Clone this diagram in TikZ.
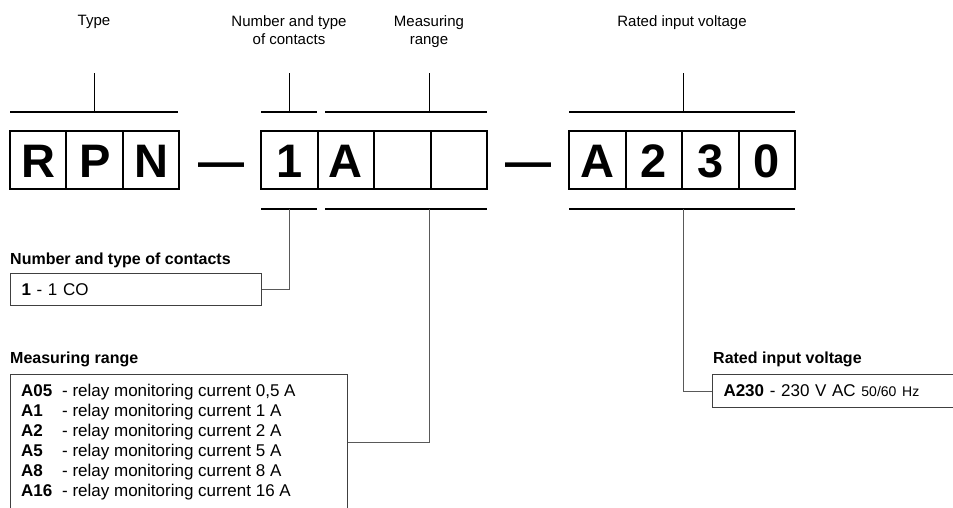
\documentclass[tikz,border=0pt]{standalone}
\usepackage{fontspec}
\setmainfont{Liberation Sans}
\tikzstyle{cell}=[draw=black,line width=2pt,minimum width=56.5pt,minimum height=58pt,
  inner sep=0pt,text height=34pt,text depth=0pt,font=\bfseries\fontsize{47}{47}\selectfont]
\tikzstyle{dashsign}=[inner sep=0pt,text height=34pt,text depth=0pt,
  font=\bfseries\fontsize{46}{46}\selectfont]
\tikzstyle{toplabel}=[align=center,inner sep=0pt,font=\fontsize{15}{18}\selectfont]
\tikzstyle{heading}=[inner sep=0pt,font=\bfseries\fontsize{16}{18}\selectfont]
\tikzstyle{listbox}=[draw=black!75,line width=1pt,inner sep=0pt,
  font=\fontsize{17}{20}\selectfont]
\tikzstyle{bracket}=[line width=1.5pt]
\tikzstyle{tick}=[line width=1pt]
\tikzstyle{lead}=[line width=1pt,draw=black!65]

\begin{document}
\begin{tikzpicture}[x=1pt,y=-1pt]
    \useasboundingbox (0,0) rectangle (953,507);
    \clip (0,0) rectangle (953,507);
    % code cells
    \node [style=cell] (r) at (38.2,160) {R};
    \node [style=cell] (p) at (94.7,160) {P};
    \node [style=cell] (n) at (151.2,160) {N};
    \node [style=dashsign] (d1) at (221,160) {—};
    \node [style=cell] (c1) at (289.25,160) {1};
    \node [style=cell] (c2) at (345.75,160) {A};
    \node [style=cell] (m1) at (402.25,160) {};
    \node [style=cell] (m2) at (458.75,160) {};
    \node [style=dashsign] (d2) at (528.5,160) {—};
    \node [style=cell] (v1) at (597.25,160) {A};
    \node [style=cell] (v2) at (653.75,160) {2};
    \node [style=cell] (v3) at (710.25,160) {3};
    \node [style=cell] (v4) at (766.75,160) {0};
    % top labels
    \node [style=toplabel,anchor=north] (ltype) at (94,15) {Type};
    \node [style=toplabel,anchor=north] (lcont) at (289,15) {Number and type\\of contacts};
    \node [style=toplabel,anchor=north] (lmeas) at (429,15) {Measuring\\range};
    \node [style=toplabel,anchor=north] (lvolt) at (682,15) {Rated input voltage};
    % brackets
    \coordinate (tl) at (10,112);
    \coordinate (tr) at (178,112);
    \coordinate (tt) at (94,73);
    \coordinate (tm) at (94,112);
    \coordinate (cl) at (261,112);
    \coordinate (cr) at (317,112);
    \coordinate (ct) at (289,73);
    \coordinate (cm) at (289,112);
    \coordinate (ml) at (325,112);
    \coordinate (mr) at (487,112);
    \coordinate (mt) at (429,73);
    \coordinate (mm) at (429,112);
    \coordinate (vl) at (569,112);
    \coordinate (vr) at (795,112);
    \coordinate (vt) at (683,73);
    \coordinate (vm) at (683,112);
    \coordinate (cbl) at (261,209);
    \coordinate (cbr) at (317,209);
    \coordinate (cbm) at (289,209);
    \coordinate (mbl) at (325,209);
    \coordinate (mbr) at (487,209);
    \coordinate (mbm) at (429,209);
    \coordinate (vbl) at (569,209);
    \coordinate (vbr) at (795,209);
    \coordinate (vbm) at (683,209);
    \draw [style=bracket] (tl) to (tr);
    \draw [style=tick] (tt) to (tm);
    \draw [style=bracket] (cl) to (cr);
    \draw [style=tick] (ct) to (cm);
    \draw [style=bracket] (ml) to (mr);
    \draw [style=tick] (mt) to (mm);
    \draw [style=bracket] (vl) to (vr);
    \draw [style=tick] (vt) to (vm);
    \draw [style=bracket] (cbl) to (cbr);
    \draw [style=bracket] (mbl) to (mbr);
    \draw [style=bracket] (vbl) to (vbr);
    % legend
    \node [style=heading,anchor=base west] (hcont) at (10,264) {Number and type of contacts};
    \node [style=listbox,anchor=north west,minimum width=251pt,minimum height=32pt,
      text width=229pt,align=left,text height=11.5pt,text depth=0pt] (cbox) at (10,273)
      {\textbf{1} - 1 CO};
    \node [style=heading,anchor=base west] (hmeas) at (10,363) {Measuring range};
    \node [style=listbox,anchor=north west,minimum width=337pt,minimum height=136pt] (mbox) at (10,374) {};
    \node [anchor=north west,inner sep=0pt,font=\fontsize{17}{20}\selectfont] (mlist) at (21,382)
      {\begin{tabular}{@{}p{41pt}@{}l@{}}
        \textbf{A05} & - relay monitoring current 0,5 A\\
        \textbf{A1}  & - relay monitoring current 1 A\\
        \textbf{A2}  & - relay monitoring current 2 A\\
        \textbf{A5}  & - relay monitoring current 5 A\\
        \textbf{A8}  & - relay monitoring current 8 A\\
        \textbf{A16} & - relay monitoring current 16 A
      \end{tabular}};
    \node [style=heading,anchor=base west] (hvolt) at (713,363) {Rated input voltage};
    \node [style=listbox,anchor=north west,minimum width=260pt,minimum height=33pt,
      text width=238pt,align=left,text height=11.5pt,text depth=0pt] (vbox) at (712,374)
      {\textbf{A230} - 230 V AC {\fontsize{14}{15}\selectfont 50/60 Hz}};
    % leads
    \draw [style=lead] (cbm) |- (cbox.east);
    \draw [style=lead] (mbm) |- (mbox.east);
    \draw [style=lead] (vbm) |- (vbox.west);
\end{tikzpicture}
\end{document}
